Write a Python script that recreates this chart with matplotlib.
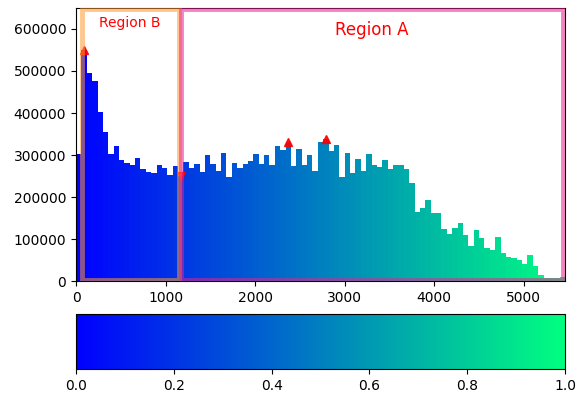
import numpy as np
import matplotlib
matplotlib.use("Agg")
import matplotlib.pyplot as plt
from matplotlib.patches import Rectangle

# histogram counts, 91 bins of width 60 starting at 0
bin_width = 60
counts = [303000, 551000, 495000, 476000, 402000, 355000, 303000, 322000, 287000, 281000,
          277000, 294000, 267000, 260000, 256000, 276000, 270000, 252000, 274000, 250000,
          283000, 268000, 278000, 260000, 299000, 278000, 263000, 304000, 248000, 281000,
          270000, 279000, 285000, 302000, 278000, 299000, 277000, 321000, 311000, 330000,
          274000, 315000, 277000, 299000, 261000, 331000, 339000, 310000, 323000, 248000,
          304000, 258000, 290000, 261000, 302000, 276000, 272000, 287000, 266000, 276000,
          276000, 266000, 234000, 165000, 173000, 192000, 161000, 162000, 125000, 113000,
          127000, 138000, 109000, 83000, 121000, 103000, 78000, 74000, 104000, 66000,
          56000, 54000, 50000, 40000, 61000, 36000, 14000, 6000, 6000, 6000,
          10000]

# marked extremes (bin index)
peak_bins = [1, 39, 46]
valley_bins = [19]

# regions: (x0, x1)
region_b = (65, 1150)
region_a = (1170, 5440)

n = len(counts)
centers = bin_width * (np.arange(n) + 0.5)
xmax = bin_width * n

cmap = plt.get_cmap("winter")
colors = cmap(centers / xmax)

fig = plt.figure(figsize=(5.78, 3.96), dpi=100)
ax = fig.add_axes([0.1315, 0.2904, 0.846, 0.6894])
cax = fig.add_axes([0.1315, 0.068, 0.846, 0.138])

ax.bar(centers, counts, width=bin_width, color=colors, linewidth=0)
ax.set_xlim(0, xmax)
ax.set_ylim(0, 650000)

ax.plot(centers[peak_bins], np.array(counts)[peak_bins], "^", color="red", ms=6, alpha=0.9)
ax.plot(centers[valley_bins], np.array(counts)[valley_bins], "v", color="red", ms=6, alpha=0.9)

ax.add_patch(Rectangle((region_b[0], 3000), region_b[1] - region_b[0], 644000,
                       fill=False, edgecolor="#ff9a30", linewidth=3.5, alpha=0.55, zorder=3))
ax.add_patch(Rectangle((region_a[0], 3000), region_a[1] - region_a[0], 644000,
                       fill=False, edgecolor="#e8218f", linewidth=3.5, alpha=0.55, zorder=3))

ax.text(600, 615000, "Region B", color="red", ha="center", va="center", fontsize=10)
ax.text(3300, 598000, "Region A", color="red", ha="center", va="center", fontsize=12)

sm = matplotlib.cm.ScalarMappable(cmap=cmap, norm=plt.Normalize(0, 1))
fig.colorbar(sm, cax=cax, orientation="horizontal")

fig.savefig("out.png", dpi=100)
